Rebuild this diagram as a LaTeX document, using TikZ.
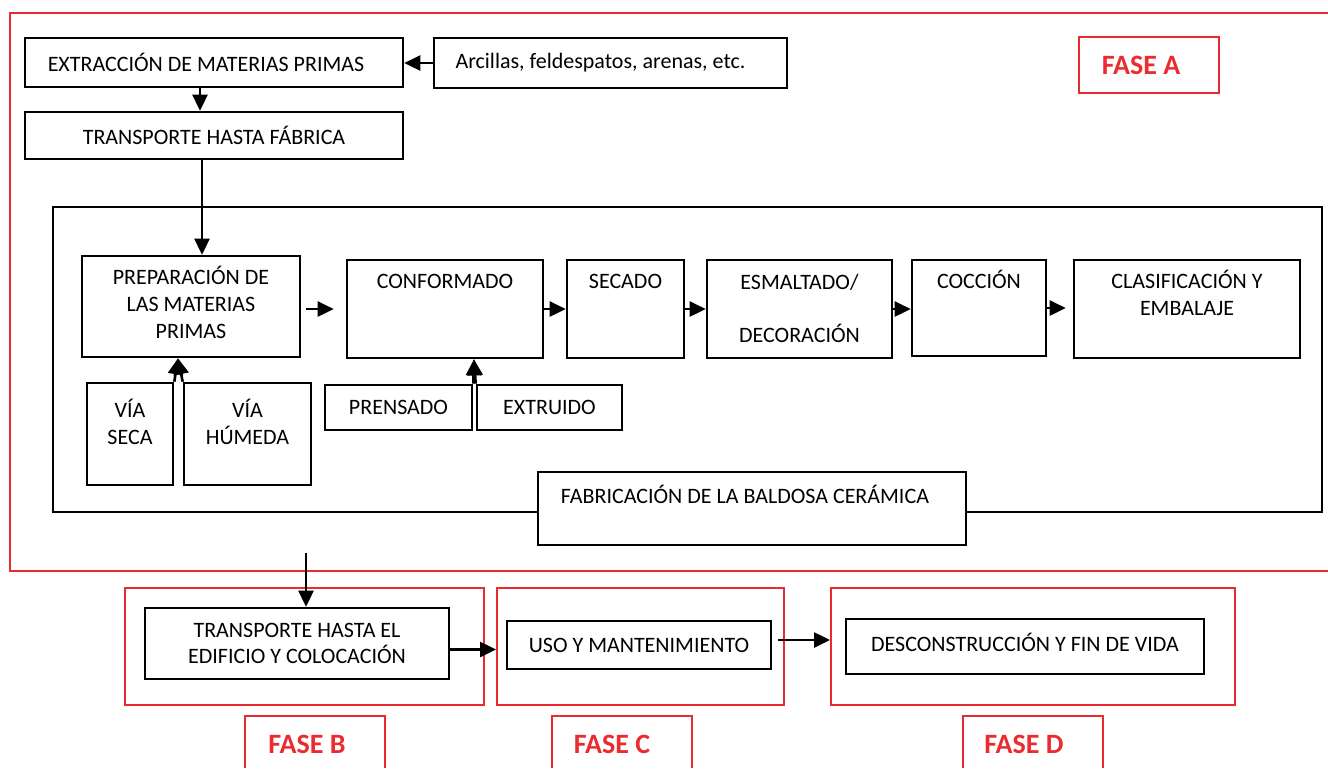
\documentclass[tikz,border=0pt]{standalone}
\usepackage{fontspec}
\setmainfont{Carlito}
\usepackage{tikz}
\usetikzlibrary{arrows.meta,fit}
\definecolor{rojofase}{RGB}{234,44,48}
\tikzstyle{caja} = [draw, line width=1.3pt, inner sep=0pt]
\tikzstyle{arriba} = [anchor=north, inner sep=0pt, yshift=-7.5pt, align=center, font=\fontsize{11}{13.5}\selectfont]
\tikzstyle{centro} = [anchor=center, inner sep=0pt, align=center, font=\fontsize{11}{13}\selectfont]
\tikzstyle{marco} = [draw=rojofase, line width=1pt, inner sep=0pt]
\tikzstyle{fasetxt} = [text=rojofase, inner sep=0pt, font=\fontsize{14}{16}\selectfont\bfseries]
\tikzstyle{flecha} = [line width=1.3pt, ->]

\begin{document}
\begin{tikzpicture}[x=0.5pt, y=-0.5pt, >={Triangle[length=8pt,width=7.5pt]}]
\useasboundingbox (0,0) rectangle (1328,768);
% FASE A
\draw[rojofase, line width=1pt] (1328,13) -- (10,13) -- (10,571) -- (1328,571);
\node[marco, fit={(1079,37) (1219,93)}, label={[fasetxt, xshift=-4pt]center:FASE A}] (faseA) {};
\node[caja, fit={(25,38) (403,87)}, label={[centro, xshift=-4pt]center:EXTRACCIÓN DE MATERIAS PRIMAS}] (extr) {};
\node[caja, fit={(434,38) (787,88)}, label={[centro, xshift=-5pt]center:Arcillas, feldespatos, arenas, etc.}] (arc) {};
\node[caja, fit={(25,112) (403,159)}, label={[centro]center:TRANSPORTE HASTA FÁBRICA}] (transp) {};
\draw[flecha] (arc.west) -- (arc.west -| extr.east);
\draw[flecha] ([xshift=-7pt]extr.south) -- ([xshift=-7pt]transp.north);

% fabricación de la baldosa
\node[caja, fit={(53,207) (1322,512)}] (fab) {};
\node[caja, fit={(82,256) (300,357)}, label={[centro, font=\fontsize{11}{13.5}\selectfont, yshift=2pt]center:PREPARACIÓN DE\\LAS MATERIAS\\PRIMAS}] (prep) {};
\node[caja, fit={(347,260) (543,358)}, label={[arriba]north:CONFORMADO}] (conf) {};
\node[caja, fit={(567,260) (684,358)}, label={[arriba]north:SECADO}] (sec) {};
\node[caja, fit={(707,260) (892,358)}, label={[arriba]north:ESMALTADO/\\[13pt]DECORACIÓN}] (esm) {};
\node[caja, fit={(912,260) (1046,356)}, label={[arriba, yshift=2pt]north:COCCIÓN}] (cocc) {};
\node[caja, fit={(1074,260) (1300,358)}, label={[arriba, yshift=2pt]north:CLASIFICACIÓN Y\\EMBALAJE}] (clas) {};
\node[caja, fit={(87,383) (173,485)}, label={[arriba, yshift=-1pt]north:VÍA\\SECA}] (seca) {};
\node[caja, fit={(184,383) (311,485)}, label={[arriba, yshift=-1pt]north:VÍA\\HÚMEDA}] (hum) {};
\node[caja, fit={(325,385) (472,430)}, label={[centro]center:PRENSADO}] (pren) {};
\node[caja, fit={(477,385) (622,430)}, label={[centro]center:EXTRUIDO}] (extru) {};
\node[caja, fill=white, fit={(538,472) (966,545)}, label={[arriba, xshift=-3.5pt, yshift=0.5pt]north:FABRICACIÓN DE LA BALDOSA CERÁMICA}] (bald) {};

\draw[flecha] ([xshift=-6pt]transp.south) -- ([xshift=-6pt]transp.south |- prep.north);
\draw[flecha, shorten <=2.5pt, shorten >=6pt] (prep.east |- conf.west) -- (conf.west);
\draw[flecha] (conf.east) -- (sec.west);
\draw[flecha] (sec.east) -- (esm.west);
\draw[flecha] (esm.east) -- (esm.east -| cocc.west);
\draw[flecha, shorten >=3.5pt] (cocc.east) -- (cocc.east -| clas.west);
% entradas de las vías y del conformado
\coordinate (prepin) at ([xshift=-6.5pt]prep.south);
\coordinate (confin) at ([xshift=14.5pt]conf.south);
\draw[flecha] (seca.north east) -- (prepin);
\draw[flecha] (hum.north west) -- (prepin);
\draw[flecha] (pren.north east) -- (confin);
\draw[flecha] (extru.north west) -- (confin);

% FASES B, C y D
\node[marco, fit={(125,588) (484,705)}] (faseB) {};
\node[marco, fit={(497,588) (784,705)}] (faseC) {};
\node[marco, fit={(831,588) (1235,705)}] (faseD) {};
\node[caja, fit={(145,608) (449,679)}, label={[centro]center:TRANSPORTE HASTA EL\\EDIFICIO Y COLOCACIÓN}] (tedif) {};
\node[caja, fit={(507,621) (771,669)}, label={[centro]center:USO Y MANTENIMIENTO}] (uso) {};
\node[caja, fit={(846,619) (1204,674)}, label={[centro, yshift=2pt]center:DESCONSTRUCCIÓN Y FIN DE VIDA}] (decon) {};
\coordinate (bajada) at (306,553);
\draw[flecha] (bajada) -- (bajada |- tedif.north);
\draw[flecha] ([yshift=-3pt]tedif.east) -- ([yshift=-3pt]tedif.east -| faseC.west);
\draw[flecha, shorten <=3pt] ([yshift=2.5pt]uso.east) -- ([yshift=2.5pt]uso.east -| faseD.west);

\node[fasetxt] (fB) at (307,744) {FASE B};
\node[fasetxt] (fC) at (612,744) {FASE C};
\node[fasetxt] (fD) at (1024,744) {FASE D};
\draw[rojofase, line width=1pt] (245,768) |- (385,716) -- (385,768);
\draw[rojofase, line width=1pt] (552,768) |- (692,716) -- (692,768);
\draw[rojofase, line width=1pt] (963,768) |- (1103,716) -- (1103,768);
\end{tikzpicture}
\end{document}
